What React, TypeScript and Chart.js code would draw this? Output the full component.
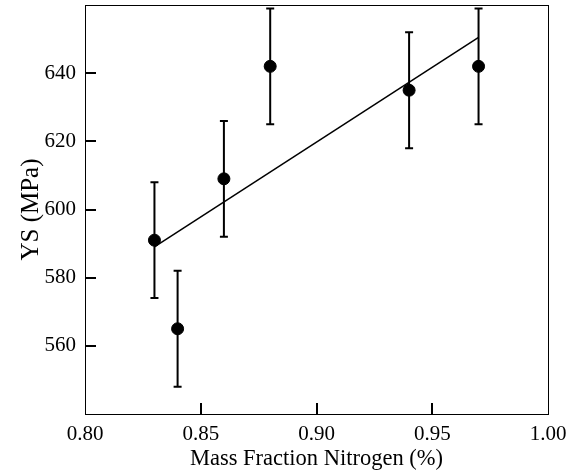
import React, { useEffect, useRef } from "react";
import { Chart, registerables } from "chart.js";

Chart.register(...registerables);

const nitrogen = [0.83, 0.84, 0.86, 0.88, 0.94, 0.97];
const ys = [591, 565, 609, 642, 635, 642];
const ysError = [17, 17, 17, 17, 17, 17];
const fitLine = [
  { x: 0.83, y: 589 },
  { x: 0.97, y: 650.5 },
];
const xTickValues = [0.85, 0.9, 0.95];
const yTickValues = [560, 580, 600, 620, 640];

const FONT = "'Liberation Serif', 'Times New Roman', serif";

const framePlugin = {
  id: "frameAndBars",
  beforeDatasetsDraw(chart: any) {
    const { ctx, scales } = chart;
    const xs = scales.x;
    const yscale = scales.y;
    ctx.save();
    ctx.strokeStyle = "#000";
    ctx.lineWidth = 2;
    nitrogen.forEach((xv, i) => {
      const px = xs.getPixelForValue(xv);
      const top = yscale.getPixelForValue(ys[i] + ysError[i]);
      const bot = yscale.getPixelForValue(ys[i] - ysError[i]);
      ctx.beginPath();
      ctx.moveTo(px, top);
      ctx.lineTo(px, bot);
      ctx.moveTo(px - 4, top);
      ctx.lineTo(px + 4, top);
      ctx.moveTo(px - 4, bot);
      ctx.lineTo(px + 4, bot);
      ctx.stroke();
    });
    ctx.restore();
  },
  afterDraw(chart: any) {
    const { ctx, chartArea, scales } = chart;
    const xs = scales.x;
    const yscale = scales.y;
    ctx.save();
    ctx.strokeStyle = "#000";
    ctx.lineWidth = 1;
    ctx.strokeRect(
      Math.round(chartArea.left) + 0.5,
      Math.round(chartArea.top) + 0.5,
      Math.round(chartArea.right - chartArea.left),
      Math.round(chartArea.bottom - chartArea.top)
    );
    ctx.lineWidth = 2;
    ctx.beginPath();
    xTickValues.forEach((v) => {
      const px = Math.round(xs.getPixelForValue(v));
      ctx.moveTo(px, chartArea.bottom);
      ctx.lineTo(px, chartArea.bottom - 11);
    });
    yTickValues.forEach((v) => {
      const py = Math.round(yscale.getPixelForValue(v));
      ctx.moveTo(chartArea.left, py);
      ctx.lineTo(chartArea.left + 11, py);
    });
    ctx.stroke();
    ctx.restore();
  },
};

export default function App() {
  const ref = useRef<HTMLCanvasElement | null>(null);
  useEffect(() => {
    document.body.style.margin = "0";
    const canvas = ref.current;
    if (!canvas) return;
    const chart = new Chart(canvas, {
      type: "scatter",
      data: {
        datasets: [
          {
            label: "YS",
            data: nitrogen.map((x, i) => ({ x, y: ys[i] })),
            backgroundColor: "#000",
            borderColor: "#000",
            pointRadius: 6,
            pointHoverRadius: 6,
            clip: false,
          },
          {
            label: "Fit",
            data: fitLine,
            showLine: true,
            borderColor: "#000",
            borderWidth: 1.5,
            pointRadius: 0,
            fill: false,
          },
        ],
      },
      options: {
        animation: false,
        responsive: false,
        layout: { autoPadding: false, padding: { top: 5, right: 25, left: 0, bottom: 0 } },
        plugins: {
          legend: { display: false },
          tooltip: { enabled: false },
        },
        scales: {
          x: {
            type: "linear",
            min: 0.8,
            max: 1.0,
            grid: { display: false, drawTicks: false },
            border: { display: false },
            ticks: {
              stepSize: 0.05,
              padding: 8,
              color: "#000",
              font: { family: FONT, size: 21 },
              callback: (v: any) => Number(v).toFixed(2),
              maxRotation: 0,
            },
            title: {
              display: true,
              text: "Mass Fraction Nitrogen (%)",
              color: "#000",
              font: { family: FONT, size: 22.5 },
              padding: { top: 0, bottom: 0 },
            },
            afterFit: (scale: any) => {
              scale.height = 59;
              scale.paddingLeft = 0;
              scale.paddingRight = 0;
            },
          },
          y: {
            type: "linear",
            min: 540,
            max: 660,
            grid: { display: false, drawTicks: false },
            border: { display: false },
            ticks: {
              stepSize: 20,
              padding: 9,
              color: "#000",
              font: { family: FONT, size: 21 },
              callback: (v: any) => (v === 540 || v === 660 ? "" : String(v)),
            },
            title: {
              display: true,
              text: "YS (MPa)",
              color: "#000",
              font: { family: FONT, size: 25 },
              padding: { top: 16, bottom: 0 },
            },
            afterFit: (scale: any) => {
              scale.width = 85;
              scale.paddingTop = 0;
              scale.paddingBottom = 0;
            },
          },
        },
      },
      plugins: [framePlugin],
    });
    return () => chart.destroy();
  }, []);
  return (
    <div style={{ width: 573, height: 473 }}>
      <canvas ref={ref} width={573} height={473} style={{ display: "block" }} />
    </div>
  );
}
